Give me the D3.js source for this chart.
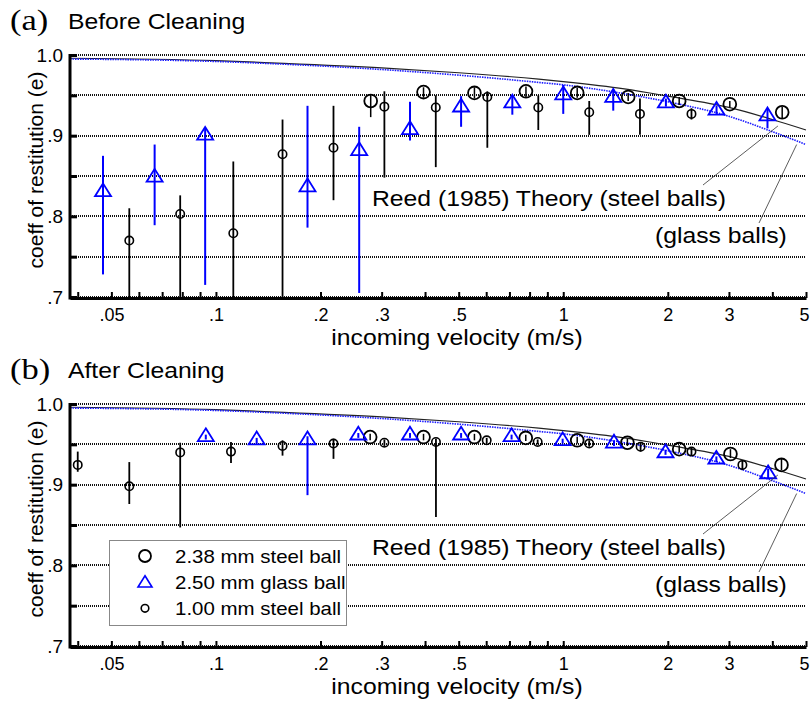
<!DOCTYPE html>
<html>
<head>
<meta charset="utf-8">
<script src="https://cdn.jsdelivr.net/npm/d3@7"></script>
<style>
  body { margin: 0; background: #fff; }
  text { font-family: "Liberation Sans", Arial, sans-serif; fill: #000; }
</style>
</head>
<body>
<div id="chart"></div>
<script>
// axis ticks
const xTicks = [0.04, 0.05, 0.06, 0.07, 0.08, 0.09, 0.1, 0.2, 0.3, 0.4, 0.5, 0.6, 0.7, 0.8, 0.9, 1, 2, 3, 4, 5];
const xLabelVals = [0.05, 0.1, 0.2, 0.3, 0.5, 1, 2, 3, 5];
const xLabelText = [".05", ".1", ".2", ".3", ".5", "1", "2", "3", "5"];
const yTicks = [0.7, 0.75, 0.8, 0.85, 0.9, 0.95, 1.0];
const yLabelVals = [0.7, 0.8, 0.9, 1.0];
const yLabelText = [".7", ".8", ".9", "1.0"];

// Reed (1985) theory
const theoryV = [0.038, 0.1, 0.15, 0.3, 0.5, 0.85, 1, 1.5, 2, 3, 4, 5];
const theorySteel = [0.996, 0.993, 0.990, 0.984, 0.978, 0.970, 0.967, 0.958, 0.949, 0.935, 0.920, 0.907];
const theoryGlass = [0.995, 0.992, 0.989, 0.982, 0.975, 0.966, 0.963, 0.952, 0.942, 0.924, 0.905, 0.889];

// [velocity, e, low, high]  -- (a) before cleaning
const beforeSteel238 = [
  [0.279, 0.943, 0.923, 0.950], [0.396, 0.954, 0.947, 0.960], [0.555, 0.953, 0.946, 0.960],
  [0.781, 0.955, 0.948, 0.961], [1.097, 0.953, 0.947, 0.959], [1.538, 0.948, 0.943, 0.953],
  [2.157, 0.943, 0.938, 0.948], [3.017, 0.939, 0.935, 0.943], [4.27, 0.929, 0.922, 0.936]];
const beforeGlass250 = [
  [0.0473, 0.831, 0.728, 0.875], [0.0666, 0.849, 0.789, 0.889], [0.0931, 0.901, 0.715, 0.910],
  [0.1835, 0.837, 0.786, 0.937], [0.2585, 0.882, 0.705, 0.911], [0.362, 0.908, 0.894, 0.942],
  [0.508, 0.936, 0.911, 0.949], [0.7135, 0.941, 0.926, 0.950], [1.0, 0.951, 0.927, 0.963],
  [1.393, 0.948, 0.931, 0.958], [1.975, 0.941, 0.936, 0.946], [2.763, 0.932, 0.927, 0.937],
  [3.873, 0.925, 0.909, 0.934]];
const beforeSteel100 = [
  [0.0563, 0.770, 0.69, 0.810], [0.0789, 0.803, 0.69, 0.826], [0.1122, 0.779, 0.69, 0.868],
  [0.1555, 0.877, 0.69, 0.920], [0.218, 0.885, 0.820, 0.937], [0.3055, 0.936, 0.848, 0.955],
  [0.4295, 0.935, 0.861, 0.950], [0.6045, 0.948, 0.885, 0.955], [0.8475, 0.935, 0.907, 0.950],
  [1.188, 0.929, 0.901, 0.943], [1.663, 0.927, 0.901, 0.946], [2.34, 0.927, 0.920, 0.934]];

// (b) after cleaning
const afterSteel238 = [
  [0.278, 0.959, 0.955, 0.963], [0.396, 0.959, 0.955, 0.963], [0.555, 0.959, 0.955, 0.963],
  [0.78, 0.958, 0.954, 0.962], [1.097, 0.955, 0.951, 0.959], [1.53, 0.952, 0.948, 0.957],
  [2.157, 0.944, 0.940, 0.949], [3.03, 0.938, 0.933, 0.944], [4.25, 0.9245, 0.918, 0.932]];
const afterGlass250 = [
  [0.0935, 0.960, 0.956, 0.962], [0.131, 0.956, 0.951, 0.958], [0.1835, 0.956, 0.887, 0.960],
  [0.257, 0.962, 0.958, 0.964], [0.362, 0.962, 0.958, 0.964], [0.508, 0.962, 0.958, 0.964],
  [0.71, 0.960, 0.956, 0.962], [0.996, 0.955, 0.951, 0.957], [1.40, 0.952, 0.948, 0.955],
  [1.97, 0.940, 0.937, 0.943], [2.76, 0.932, 0.928, 0.935], [3.89, 0.914, 0.908, 0.920]];
const afterSteel100 = [
  [0.04, 0.9245, 0.916, 0.941], [0.0563, 0.898, 0.876, 0.928], [0.0789, 0.940, 0.847, 0.952],
  [0.1105, 0.941, 0.927, 0.953], [0.1555, 0.948, 0.936, 0.955], [0.218, 0.951, 0.932, 0.957],
  [0.3055, 0.952, 0.948, 0.956], [0.43, 0.953, 0.860, 0.957], [0.602, 0.955, 0.951, 0.958],
  [0.844, 0.953, 0.950, 0.956], [1.188, 0.951, 0.947, 0.955], [1.67, 0.947, 0.941, 0.952],
  [2.34, 0.941, 0.936, 0.946], [3.28, 0.9245, 0.918, 0.930]];

const legendLabels = ["2.38 mm steel ball", "2.50 mm glass ball", "1.00 mm steel ball"];

const W = 810, H = 704, SX = 1.15;
const svg = d3.select("#chart").append("svg").attr("width", W).attr("height", H);

const x = d3.scaleLog().domain([0.038, 5]).range([70, 806]);

function stext(g, px, py, s, size, anchor, sx) {
  return g.append("text")
    .attr("transform", `translate(${px},${py}) scale(${sx || 1},1)`)
    .attr("text-anchor", anchor || "start")
    .style("font-size", size + "px")
    .text(s);
}

function triPath(s) {
  const h = s * 0.8;
  return `M0,${-h * 0.62}L${s / 2},${h * 0.38}L${-s / 2},${h * 0.38}Z`;
}

function drawPanel(top, letter, title, steel238, glass250, steel100, showLegend) {
  const g = svg.append("g").attr("transform", `translate(0,${top})`);
  const y = d3.scaleLinear().domain([0.7, 1.0]).range([297, 55]);
  const cy = v => y(Math.max(0.7, Math.min(1.0, v)));

  // titre
  g.append("text")
    .attr("transform", `translate(10,30) scale(${SX},1)`)
    .style("font-family", "'Liberation Serif', 'Times New Roman', serif")
    .style("font-size", "30px")
    .text(letter);
  stext(g, 68, 29.3, title, 21.5, "start", SX);

  // grille
  g.append("g").selectAll("line").data(yTicks).enter().append("line")
    .attr("x1", x.range()[0]).attr("x2", x.range()[1])
    .attr("y1", d => Math.round(y(d))).attr("y2", d => Math.round(y(d)))
    .attr("stroke", "#111").attr("stroke-width", 2).attr("stroke-dasharray", "1,1")
    .attr("shape-rendering", "crispEdges");

  // courbes théoriques
  const line = d3.line().curve(d3.curveMonotoneX).x(d => x(d[0])).y(d => y(d[1]));
  g.append("path").datum(theoryV.map((v, i) => [v, theorySteel[i]]))
    .attr("d", line).attr("fill", "none").attr("stroke", "#222").attr("stroke-width", 1.2);
  g.append("path").datum(theoryV.map((v, i) => [v, theoryGlass[i]]))
    .attr("d", line).attr("fill", "none").attr("stroke", "#1a1aff").attr("stroke-width", 1.6)
    .attr("stroke-dasharray", "1.5,1");

  // barres d'erreur
  function bars(data, color, w) {
    g.append("g").selectAll("line").data(data).enter().append("line")
      .attr("x1", d => x(d[0])).attr("x2", d => x(d[0]))
      .attr("y1", d => cy(d[2])).attr("y2", d => cy(d[3]))
      .attr("stroke", color).attr("stroke-width", w);
  }
  bars(steel100, "#000", 1.8);
  bars(steel238, "#000", 1.5);
  bars(glass250, "#0000ff", 2);

  // points
  g.append("g").selectAll("circle").data(steel238).enter().append("circle")
    .attr("cx", d => x(d[0])).attr("cy", d => y(d[1])).attr("r", 6.4)
    .attr("fill", "none").attr("stroke", "#000").attr("stroke-width", 1.8);
  g.append("g").selectAll("circle").data(steel100).enter().append("circle")
    .attr("cx", d => x(d[0])).attr("cy", d => y(d[1])).attr("r", 4.2)
    .attr("fill", "none").attr("stroke", "#000").attr("stroke-width", 1.6);
  g.append("g").selectAll("path").data(glass250).enter().append("path")
    .attr("transform", d => `translate(${x(d[0])},${y(d[1])})`)
    .attr("d", triPath(16))
    .attr("fill", "none").attr("stroke", "#0000ff").attr("stroke-width", 1.8);

  // annotations
  stext(g, 372, 205.7, "Reed (1985) Theory (steel balls)", 21.5, "start", SX);
  stext(g, 655, 243, "(glass balls)", 21.5, "start", SX);
  g.append("line").attr("x1", 703).attr("y1", 185).attr("x2", x(4.15)).attr("y2", y(0.912))
    .attr("stroke", "#333").attr("stroke-width", 0.8);
  g.append("line").attr("x1", 759).attr("y1", 223).attr("x2", x(4.7)).attr("y2", y(0.889))
    .attr("stroke", "#333").attr("stroke-width", 0.8);

  // axes
  const xAxis = d3.axisBottom(x).tickValues(xTicks).tickSize(-6).tickSizeOuter(0).tickPadding(10)
    .tickFormat(d => { const i = xLabelVals.indexOf(d); return i >= 0 ? xLabelText[i] : ""; });
  const gx = g.append("g").attr("transform", "translate(0,298)").call(xAxis);
  gx.select(".domain").attr("stroke-width", 3);
  gx.selectAll(".tick line").attr("stroke-width", 2);
  gx.selectAll("text").style("font-size", "18px").style("font-family", "'Liberation Sans', Arial, sans-serif");
  gx.selectAll(".tick").filter(d => d === 5).select("text").attr("x", -2);

  const yAxis = d3.axisLeft(y).tickValues(yTicks).tickSize(-7).tickSizeOuter(0).tickPadding(7)
    .tickFormat(d => { const i = yLabelVals.findIndex(v => Math.abs(v - d) < 1e-6); return i >= 0 ? yLabelText[i] : ""; });
  const gy = g.append("g").attr("transform", "translate(70,0)").call(yAxis);
  gy.select(".domain").attr("stroke-width", 3).attr("d", `M0,${y(1.0) - 1}V${y(0.7) + 2.5}`);
  gy.selectAll(".tick line").attr("stroke-width", 3);
  gy.selectAll("text").style("font-size", "19px").style("font-family", "'Liberation Sans', Arial, sans-serif");

  stext(g, 457, 345, "incoming velocity (m/s)", 21.5, "middle", SX);
  g.append("text").attr("transform", "translate(43,170) rotate(-90)")
    .attr("text-anchor", "middle").style("font-size", "21px")
    .text("coeff of restitution (e)");

  if (showLegend) {
    const lg = g.append("g");
    lg.append("rect").attr("x", 109.5).attr("y", 540.5 - top).attr("width", 237).attr("height", 85)
      .attr("fill", "#fff").attr("stroke", "#888").attr("stroke-width", 1);
    const rows = [556, 582.7, 608.3].map(v => v - top);
    lg.append("circle").attr("cx", 145).attr("cy", rows[0]).attr("r", 6)
      .attr("fill", "none").attr("stroke", "#000").attr("stroke-width", 1.8);
    lg.append("path").attr("transform", `translate(145,${rows[1]})`).attr("d", triPath(14))
      .attr("fill", "none").attr("stroke", "#0000ff").attr("stroke-width", 1.6);
    lg.append("circle").attr("cx", 145).attr("cy", rows[2]).attr("r", 3.8)
      .attr("fill", "none").attr("stroke", "#000").attr("stroke-width", 1.6);
    legendLabels.forEach((t, i) => stext(lg, 175, rows[i] + 6.5, t, 17.8, "start", SX));
  }
}

drawPanel(0, "(a)", "Before Cleaning", beforeSteel238, beforeGlass250, beforeSteel100, false);
drawPanel(349, "(b)", "After Cleaning", afterSteel238, afterGlass250, afterSteel100, true);
</script>
</body>
</html>
